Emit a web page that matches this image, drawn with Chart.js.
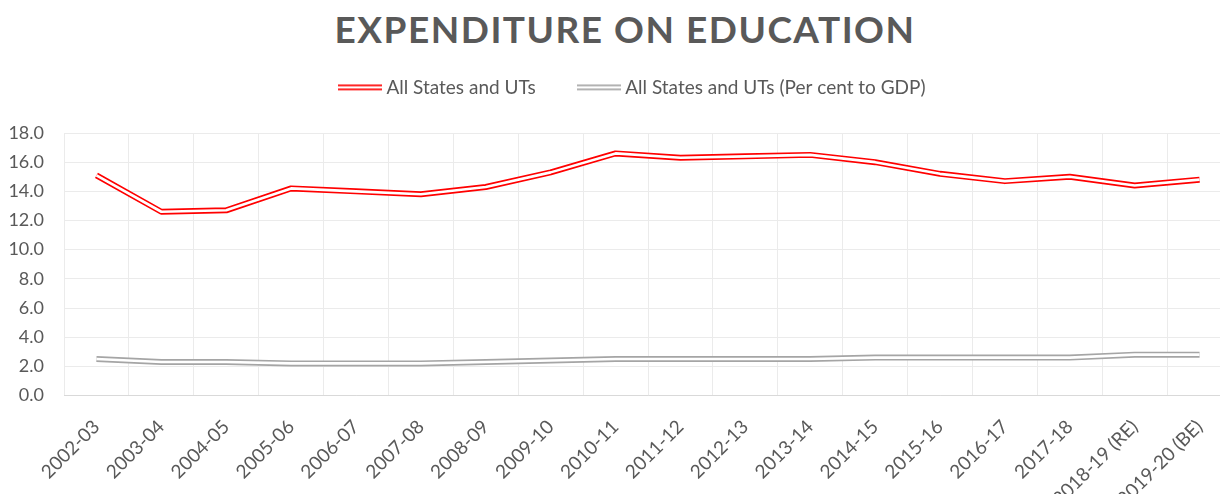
<!DOCTYPE html>
<html>
<head>
<meta charset="utf-8">
<script src="https://cdn.jsdelivr.net/npm/chart.js@4.4.1/dist/chart.umd.min.js"></script>
<style>
  html, body { margin: 0; padding: 0; background: #ffffff; overflow: hidden; width: 1220px; height: 494px; }
  #wrap { position: absolute; left: 0; top: 0; width: 1250px; height: 520px; }
  #title { position: absolute; left: 0; top: 5px; width: 1250px; text-align: center;
           font-family: Lato, "Open Sans", sans-serif; font-weight: bold; font-size: 37px;
           letter-spacing: 1.5px; color: #595959; line-height: 48px; }
  canvas { position: absolute; left: 0; top: 0; }
</style>
</head>
<body>
<div id="wrap">
  <div id="title">EXPENDITURE ON EDUCATION</div>
  <canvas id="c" width="1250" height="520"></canvas>
</div>
<script>
const categories = ["2002-03","2003-04","2004-05","2005-06","2006-07","2007-08","2008-09","2009-10","2010-11","2011-12","2012-13","2013-14","2014-15","2015-16","2016-17","2017-18","2018-19 (RE)","2019-20 (BE)"];
const expenditureShare = [15.1,12.6,12.7,14.2,14.0,13.8,14.3,15.3,16.6,16.3,16.4,16.5,16.0,15.2,14.7,15.0,14.4,14.8];
const percentOfGDP = [2.5,2.3,2.3,2.2,2.2,2.2,2.3,2.4,2.5,2.5,2.5,2.5,2.6,2.6,2.6,2.6,2.8,2.8];
const seriesNames = ["All States and UTs", "All States and UTs (Per cent to GDP)"];
const yTicks = { min: 0, max: 18, step: 2 };

const RED = "#FF0000";
const GRAY = "#A5A5A5";
const TEXT = "#595959";
const FONT = "Lato, 'Open Sans', sans-serif";
const TOP_PAD = 32;
const PLOT_TOP = 133;
const PLOT_LEFT = 64;
const PLOT_BOTTOM = 395.5;
const LEGEND_SHIFT = 24;

function doubleLineMarker(color) {
  const cv = document.createElement("canvas");
  cv.width = 44; cv.height = 8;
  const g = cv.getContext("2d");
  g.fillStyle = color;
  g.fillRect(0, 1, 44, 1.7);
  g.fillRect(0, 5, 44, 1.7);
  return cv;
}

const legendSpacer = {
  id: "legendSpacer",
  afterInit(chart) {
    const lg = chart.legend;
    const origFit = lg.fit;
    lg.fit = function () {
      origFit.call(this);
      this.height = PLOT_TOP - TOP_PAD;
    };
  },
  afterLayout(chart) {
    chart.legend.left += LEGEND_SHIFT;
    chart.legend.right += LEGEND_SHIFT;
  }
};

const ctx = document.getElementById("c").getContext("2d");
const chart = new Chart(ctx, {
  type: "line",
  plugins: [legendSpacer],
  data: {
    labels: categories,
    datasets: [
      { label: "_inner1", data: expenditureShare, borderColor: "#ffffff", borderWidth: 2.6,
        pointRadius: 0, tension: 0, borderJoinStyle: "round", order: 0 },
      { label: "_inner2", data: percentOfGDP, borderColor: "#ffffff", borderWidth: 2.6,
        pointRadius: 0, tension: 0, borderJoinStyle: "round", order: 0 },
      { label: seriesNames[0], data: expenditureShare, borderColor: RED, backgroundColor: RED,
        borderWidth: 6, pointRadius: 0, tension: 0, borderJoinStyle: "round", order: 1,
        pointStyle: doubleLineMarker(RED) },
      { label: seriesNames[1], data: percentOfGDP, borderColor: GRAY, backgroundColor: GRAY,
        borderWidth: 6, pointRadius: 0, tension: 0, borderJoinStyle: "round", order: 1,
        pointStyle: doubleLineMarker(GRAY) }
    ]
  },
  options: {
    responsive: false,
    animation: false,
    devicePixelRatio: 1,
    layout: { padding: { left: 10, right: 18, top: TOP_PAD, bottom: 0 } },
    plugins: {
      title: { display: false },
      tooltip: { enabled: false },
      legend: {
        position: "top",
        labels: {
          filter: (item) => !item.text.startsWith("_"),
          usePointStyle: true,
          pointStyleWidth: 34,
          boxHeight: 19,
          padding: 46,
          color: TEXT,
          font: { family: FONT, size: 19 }
        }
      }
    },
    scales: {
      x: {
        offset: true,
        grid: { offset: true, color: "#EBEBEB", drawTicks: false },
        border: { color: "#D9D9D9" },
        ticks: { color: TEXT, font: { family: FONT, size: 19 }, maxRotation: 45, minRotation: 45, padding: 20, autoSkip: false }
      },
      y: {
        min: yTicks.min, max: yTicks.max,
        grid: { color: "#EBEBEB", drawTicks: false },
        border: { display: false },
        ticks: { stepSize: yTicks.step, color: TEXT, font: { family: FONT, size: 18 }, padding: 20,
                 callback: (v) => Number(v).toFixed(1) }
      }
    }
  }
});

// nudge layout so the plot area sits where the reference has it
const ca = chart.chartArea;
chart.options.layout.padding.left += PLOT_LEFT - ca.left;
chart.options.layout.padding.bottom += ca.bottom - PLOT_BOTTOM;
chart.update();
</script>
</body>
</html>
